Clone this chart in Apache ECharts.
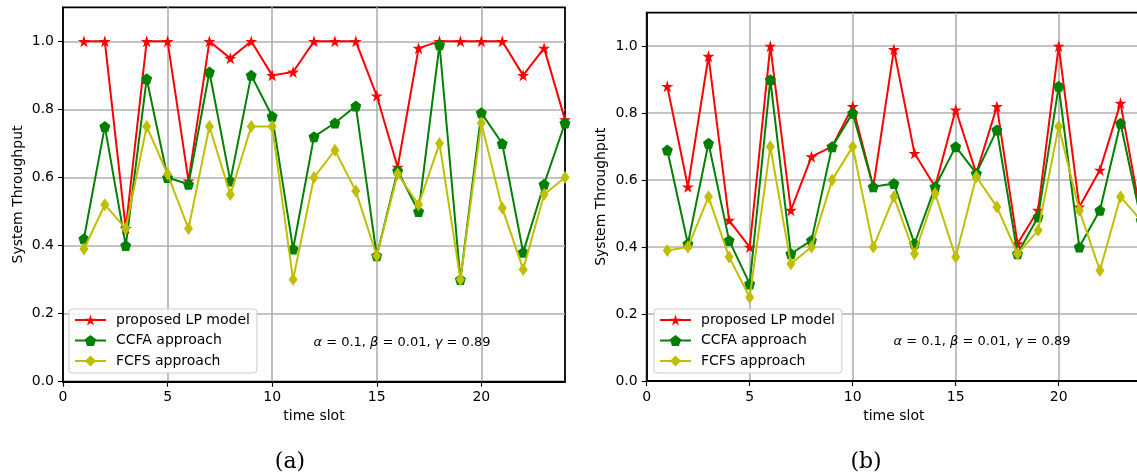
<!DOCTYPE html>
<html>
<head>
<meta charset="utf-8">
<script src="https://cdn.jsdelivr.net/npm/echarts@6/dist/echarts.min.js"></script>
<style>
  html, body { margin: 0; padding: 0; background: #fff; overflow: hidden; }
  #chart { width: 1145px; height: 475px; }
</style>
</head>
<body>
<div id="chart"></div>
<script>
// Time slots on the x axis
const timeSlots = [1, 2, 3, 4, 5, 6, 7, 8, 9, 10, 11, 12, 13, 14, 15, 16, 17, 18, 19, 20, 21, 22, 23, 24];

// Panel (a): system throughput per time slot
const lpModelA = [1.00, 1.00, 0.45, 1.00, 1.00, 0.59, 1.00, 0.95, 1.00, 0.90, 0.91, 1.00, 1.00, 1.00, 0.84, 0.63, 0.98, 1.00, 1.00, 1.00, 1.00, 0.90, 0.98, 0.77];
const ccfaA    = [0.42, 0.75, 0.40, 0.89, 0.60, 0.58, 0.91, 0.59, 0.90, 0.78, 0.39, 0.72, 0.76, 0.81, 0.37, 0.62, 0.50, 0.99, 0.30, 0.79, 0.70, 0.38, 0.58, 0.76];
const fcfsA    = [0.39, 0.52, 0.45, 0.75, 0.61, 0.45, 0.75, 0.55, 0.75, 0.75, 0.30, 0.60, 0.68, 0.56, 0.37, 0.61, 0.52, 0.70, 0.30, 0.76, 0.51, 0.33, 0.55, 0.60];

// Panel (b): system throughput per time slot
const lpModelB = [0.88, 0.58, 0.97, 0.48, 0.40, 1.00, 0.51, 0.67, 0.70, 0.82, 0.58, 0.99, 0.68, 0.58, 0.81, 0.62, 0.82, 0.41, 0.51, 1.00, 0.52, 0.63, 0.83, 0.49];
const ccfaB    = [0.69, 0.41, 0.71, 0.42, 0.29, 0.90, 0.38, 0.42, 0.70, 0.80, 0.58, 0.59, 0.41, 0.58, 0.70, 0.62, 0.75, 0.38, 0.49, 0.88, 0.40, 0.51, 0.77, 0.48];
const fcfsB    = [0.39, 0.40, 0.55, 0.37, 0.25, 0.70, 0.35, 0.40, 0.60, 0.70, 0.40, 0.55, 0.38, 0.56, 0.37, 0.61, 0.52, 0.38, 0.45, 0.76, 0.51, 0.33, 0.55, 0.48];

// Axis ticks and labels
const xTicks = [0, 5, 10, 15, 20];
const yTicks = [0, 0.2, 0.4, 0.6, 0.8, 1.0];
const seriesNames = ['proposed LP model', 'CCFA approach', 'FCFS approach'];
const xAxisTitle = 'time slot';
const yAxisTitle = 'System Throughput';
const paramText = '{i|α} = 0.1, {i|β} = 0.01, {i|γ} = 0.89';
const captions = ['(a)', '(b)'];

const FONT = 'DejaVu Sans';
const STAR = 'path://M0,-100 L22.45,-30.9 L95.1,-30.9 L36.3,11.8 L58.8,80.9 L0,38.2 L-58.8,80.9 L-36.3,11.8 L-95.1,-30.9 L-22.45,-30.9 Z';
const PENTAGON = 'path://M0,-100 L95.1,-30.9 L58.8,80.9 L-58.8,80.9 L-95.1,-30.9 Z';

const styles = [
  { color: '#ff0000', symbol: STAR, size: 12 },
  { color: '#008000', symbol: PENTAGON, size: 11 },
  { color: '#bfbf00', symbol: 'diamond', size: [9, 13] }
];

const zip = (ys) => timeSlots.map((x, i) => [x, ys[i]]);

function makeSeries(idx, values, axisIndex) {
  const s = styles[idx];
  return {
    type: 'line',
    name: seriesNames[idx],
    xAxisIndex: axisIndex,
    yAxisIndex: axisIndex,
    data: zip(values),
    symbol: s.symbol,
    symbolSize: s.size,
    showAllSymbol: true,
    color: s.color,
    lineStyle: { color: s.color, width: 2 },
    itemStyle: { color: s.color, borderWidth: 0 },
    emphasis: { disabled: true },
    animation: false,
    z: 3 + idx
  };
}

function makeXAxis(gridIndex) {
  return {
    type: 'value', gridIndex, min: 0, max: 24, interval: 5,
    name: xAxisTitle, nameLocation: 'middle', nameGap: 26,
    nameTextStyle: { fontFamily: FONT, fontSize: 14, color: '#000' },
    axisLine: { show: true, onZero: false, lineStyle: { color: '#000', width: 1.8 } },
    axisTick: { show: true, inside: false, length: 5, lineStyle: { color: '#000', width: 1.1 }, customValues: xTicks },
    axisLabel: { fontFamily: FONT, fontSize: 14, color: '#000', margin: 9, customValues: xTicks,
      formatter: (v) => (v > 22 ? '' : String(v)) },
    splitLine: { show: true, lineStyle: { color: '#b0b0b0', width: 1.6 } }
  };
}

function makeYAxis(gridIndex) {
  return {
    type: 'value', gridIndex, min: 0, max: 1.1, interval: 0.2,
    name: yAxisTitle, nameLocation: 'middle', nameGap: 38,
    nameTextStyle: { fontFamily: FONT, fontSize: 14, color: '#000' },
    axisLine: { show: true, onZero: false, lineStyle: { color: '#000', width: 1.8 } },
    axisTick: { show: true, inside: false, length: 5, lineStyle: { color: '#000', width: 1.1 }, customValues: yTicks },
    axisLabel: { fontFamily: FONT, fontSize: 14, color: '#000', margin: 9, customValues: yTicks,
      formatter: (v) => (v > 1.05 ? '' : v.toFixed(1)) },
    splitLine: { show: true, lineStyle: { color: '#b0b0b0', width: 1.6 } }
  };
}

function makeLegend(left, top) {
  return {
    orient: 'vertical', left, top,
    data: seriesNames,
    itemWidth: 31, itemHeight: 14, itemGap: 6.5,
    padding: [4, 7, 5, 5],
    backgroundColor: 'rgba(255,255,255,0.85)',
    borderColor: '#cccccc', borderWidth: 1, borderRadius: 3,
    textStyle: { fontFamily: FONT, fontSize: 14, color: '#000', padding: [0, 0, 0, 5] },
    selectedMode: false
  };
}

function paramLabel(cx, cy) {
  return {
    type: 'text', x: cx, y: cy, z: 10,
    style: {
      text: paramText, align: 'center', verticalAlign: 'middle',
      fontFamily: FONT, fontSize: 13, fill: '#000',
      rich: { i: { fontFamily: FONT, fontStyle: 'italic', fontSize: 13 } }
    }
  };
}

function caption(text, cx, cy) {
  return {
    type: 'text', x: cx, y: cy,
    style: { text, align: 'center', verticalAlign: 'middle', fontFamily: 'DejaVu Serif', fontSize: 22, fill: '#000' }
  };
}

const chart = echarts.init(document.getElementById('chart'), null, { renderer: 'canvas' });

chart.setOption({
  animation: false,
  backgroundColor: '#ffffff',
  grid: [
    { left: 63, top: 7.3, width: 502, height: 374.4, show: true, borderColor: '#000', borderWidth: 1.8, backgroundColor: 'transparent' },
    { left: 646.7, top: 12.7, width: 494.4, height: 368.3, show: true, borderColor: '#000', borderWidth: 1.8, backgroundColor: 'transparent' }
  ],
  xAxis: [makeXAxis(0), makeXAxis(1)],
  yAxis: [makeYAxis(0), makeYAxis(1)],
  legend: [makeLegend(69, 309), makeLegend(654, 309)],
  series: [
    makeSeries(0, lpModelA, 0), makeSeries(1, ccfaA, 0), makeSeries(2, fcfsA, 0),
    makeSeries(0, lpModelB, 1), makeSeries(1, ccfaB, 1), makeSeries(2, fcfsB, 1)
  ],
  graphic: [
    paramLabel(402, 343),
    paramLabel(982, 342),
    caption(captions[0], 290, 462),
    caption(captions[1], 866, 462)
  ]
});
</script>
</body>
</html>
